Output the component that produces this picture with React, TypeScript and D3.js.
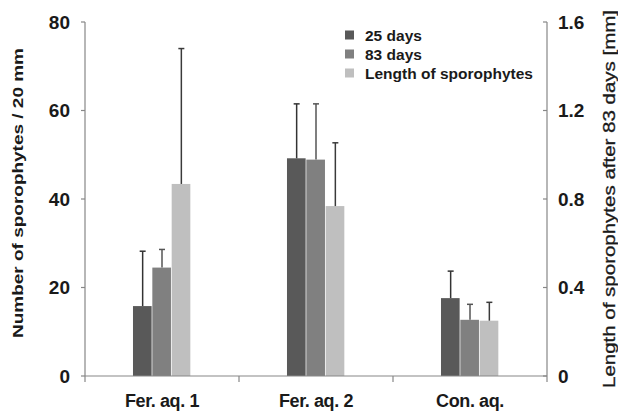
import * as d3 from "d3";

const categories = ["Fer. aq. 1", "Fer. aq. 2", "Con. aq."];
const seriesNames = ["25 days", "83 days", "Length of sporophytes"];
const days25 = [15.8, 49.2, 17.6];
const days25Err = [12.4, 12.3, 6.1];
const days83 = [24.5, 48.9, 12.7];
const days83Err = [4.1, 12.6, 3.5];
const lengthMm = [0.868, 0.768, 0.25];
const lengthErr = [0.612, 0.286, 0.083];
const leftTicks = [0, 20, 40, 60, 80];
const rightTicks = [0, 0.4, 0.8, 1.2, 1.6];

const W = 618;
const H = 412;
const M = { left: 85, right: 547, top: 22, bottom: 376 };
const COLORS = ["#595959", "#808080", "#bfbfbf"];
const ERR_COLORS = ["#333333", "#555555", "#3a3a3a"];
const FONT = "Arial, 'Liberation Sans', sans-serif";

export default function App() {
  const x0 = d3.scaleBand<string>().domain(categories).range([M.left, M.right]).padding(0);
  const x1 = d3
    .scaleBand<number>()
    .domain([0, 1, 2])
    .range([0, x0.bandwidth()])
    .paddingInner(0)
    .paddingOuter(2.48);
  const yL = d3.scaleLinear().domain([0, 80]).range([M.bottom, M.top]);
  const yR = d3.scaleLinear().domain([0, 1.6]).range([M.bottom, M.top]);

  // one row per bar: value, error, scale
  const bars = categories.flatMap((c, i) => [
    { c, s: 0, v: days25[i], e: days25Err[i], y: yL },
    { c, s: 1, v: days83[i], e: days83Err[i], y: yL },
    { c, s: 2, v: lengthMm[i], e: lengthErr[i], y: yR },
  ]);

  const axisColor = "#878787";
  const catTicks = [...categories.map((c) => x0(c)!), M.right];

  return (
    <svg
      width={W}
      height={H}
      style={{ position: "absolute", left: 0, top: 0, background: "#fff" }}
      fontFamily={FONT}
    >
      {/* bars */}
      {bars.map((b, i) => {
        const x = x0(b.c)! + x1(b.s)!;
        const w = x1.bandwidth();
        return (
          <rect
            key={"b" + i}
            x={x}
            y={b.y(b.v)}
            width={w - 0.7}
            height={M.bottom - b.y(b.v)}
            fill={COLORS[b.s]}
          />
        );
      })}

      {/* error bars (upper only) */}
      {bars.map((b, i) => {
        const cx = x0(b.c)! + x1(b.s)! + x1.bandwidth() / 2;
        const yTop = b.y(b.v + b.e);
        return (
          <g key={"e" + i} stroke={ERR_COLORS[b.s]} strokeWidth={1.5}>
            <line x1={cx} x2={cx} y1={b.y(b.v)} y2={yTop} />
            <line x1={cx - 3} x2={cx + 3} y1={yTop} y2={yTop} />
          </g>
        );
      })}

      {/* left axis */}
      <line x1={M.left} x2={M.left} y1={M.top} y2={M.bottom} stroke={axisColor} strokeWidth={1.2} />
      {leftTicks.map((t) => (
        <g key={"l" + t}>
          <line x1={M.left - 4} x2={M.left} y1={yL(t)} y2={yL(t)} stroke={axisColor} strokeWidth={1.2} />
          <text
            x={70}
            y={yL(t)}
            dy="0.36em"
            textAnchor="end"
            fontSize={19}
            fontWeight="bold"
            fill="#1a1a1a"
          >
            {t}
          </text>
        </g>
      ))}

      {/* right axis */}
      <line x1={M.right} x2={M.right} y1={M.top} y2={M.bottom} stroke={axisColor} strokeWidth={1.2} />
      {rightTicks.map((t) => (
        <g key={"r" + t}>
          <line x1={M.right - 4} x2={M.right} y1={yR(t)} y2={yR(t)} stroke={axisColor} strokeWidth={1.2} />
          <text
            x={558}
            y={yR(t)}
            dy="0.36em"
            textAnchor="start"
            fontSize={19}
            fontWeight="bold"
            fill="#1a1a1a"
          >
            {t === 0 ? "0" : d3.format(".1f")(t)}
          </text>
        </g>
      ))}

      {/* bottom axis */}
      <line x1={M.left} x2={M.right} y1={M.bottom} y2={M.bottom} stroke={axisColor} strokeWidth={1.2} />
      {catTicks.map((x, i) => (
        <line key={"t" + i} x1={x} x2={x} y1={M.bottom} y2={M.bottom + 6} stroke={axisColor} strokeWidth={1.2} />
      ))}
      {categories.map((c) => (
        <text
          key={c}
          x={x0(c)! + x0.bandwidth() / 2}
          y={406.5}
          textAnchor="middle"
          fontSize={18}
          fontWeight="bold"
          letterSpacing={-0.4}
          fill="#1a1a1a"
        >
          {c}
        </text>
      ))}

      {/* axis titles */}
      <text
        transform="translate(23,193) rotate(-90)"
        textAnchor="middle"
        fontSize={15}
        fontWeight="bold"
        fill="#1a1a1a"
        textLength={290}
        lengthAdjust="spacingAndGlyphs"
      >
        Number of sporophytes / 20 mm
      </text>
      <text
        transform="translate(615,199) rotate(-90)"
        textAnchor="middle"
        fontSize={16.5}
        fontWeight="normal"
        fill="#1a1a1a"
        stroke="#1a1a1a"
        strokeWidth={0.3}
        textLength={378}
        lengthAdjust="spacingAndGlyphs"
      >
        Length of sporophytes after 83 days [mm]
      </text>

      {/* legend */}
      {seriesNames.map((s, i) => (
        <g key={s} transform={`translate(345,${35 + i * 19})`}>
          <rect x={0} y={-4.5} width={9} height={9} fill={COLORS[i]} />
          <text x={20} y={0} dy="0.36em" fontSize={15.5} fontWeight="bold" fill="#1a1a1a">
            {s}
          </text>
        </g>
      ))}
    </svg>
  );
}
